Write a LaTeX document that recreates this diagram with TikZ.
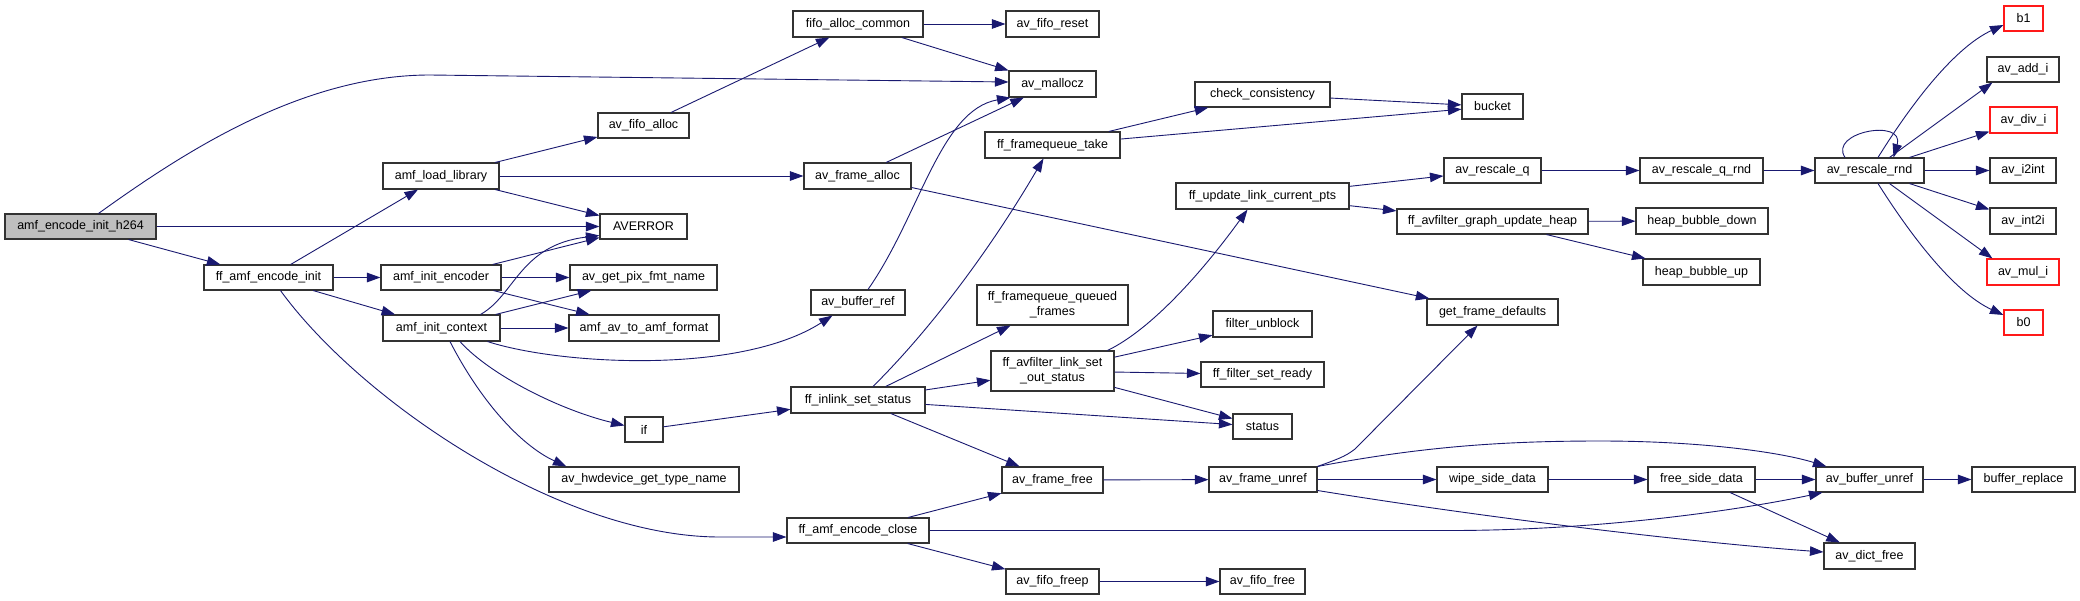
\documentclass[tikz,border=0pt]{standalone}
\usepackage{fontspec}
\setmainfont{Liberation Sans}
\usetikzlibrary{arrows.meta}
\definecolor{edgeblue}{HTML}{191970}
\definecolor{rootgray}{HTML}{BFBFBF}
\begin{document}
\begin{tikzpicture}[x=1pt,y=-1pt,
  fn/.style={draw=black!80, line width=1.1pt, fill=white, inner sep=0pt,
    font=\fontsize{12.5}{15}\selectfont, align=center},
  sz/.style 2 args={minimum width=#1pt, minimum height=#2pt},
  rootfn/.style={fn, fill=rootgray},
  redfn/.style={fn, draw=red!90},
  call/.style={draw=edgeblue, line width=0.9pt, -{Triangle[length=13.5pt,width=9.5pt]}}]
\fill[white] (0,0) rectangle (2080,600);
\useasboundingbox (0,0) rectangle (2080,600);

% nodes
\node[rootfn, sz={151}{25}] (h264) at (80.5,226.5) {amf\_encode\_init\_h264};
\node[fn, sz={129}{25}] (ffinit) at (268.5,277.5) {ff\_amf\_encode\_init};
\node[fn, sz={116}{26}] (loadlib) at (441,176) {amf\_load\_library};
\node[fn, sz={120}{25}] (initenc) at (441,277.5) {amf\_init\_encoder};
\node[fn, sz={117}{26}] (initctx) at (441.5,328) {amf\_init\_context};
\node[fn, sz={91}{25}] (fifoalloc) at (643.5,125.5) {av\_fifo\_alloc};
\node[fn, sz={87}{25}] (averror) at (643.5,226.5) {AVERROR};
\node[fn, sz={147}{25}] (pixfmt) at (643.5,277.5) {av\_get\_pix\_fmt\_name};
\node[fn, sz={150}{26}] (avtoamf) at (644,328) {amf\_av\_to\_amf\_format};
\node[fn, sz={38}{25}] (ifn) at (644,429.5) {if};
\node[fn, sz={190}{25}] (hwdev) at (644,479.5) {av\_hwdevice\_get\_type\_name};
\node[fn, sz={130}{26}] (fifocommon) at (858,24) {fifo\_alloc\_common};
\node[fn, sz={107}{26}] (framealloc) at (857.5,176) {av\_frame\_alloc};
\node[fn, sz={94}{25}] (bufref) at (858,302.5) {av\_buffer\_ref};
\node[fn, sz={134}{26}] (inlink) at (858,400) {ff\_inlink\_set\_status};
\node[fn, sz={142}{25}] (close) at (858,530.5) {ff\_amf\_encode\_close};
\node[fn, sz={93}{26}] (fiforeset) at (1052.5,24) {av\_fifo\_reset};
\node[fn, sz={87}{26}] (mallocz) at (1052.5,84) {av\_mallocz};
\node[fn, sz={135}{26}] (fqtake) at (1052.5,145) {ff\_framequeue\_take};
\node[fn, sz={151}{40}] (fqqueued) at (1052.5,305) {ff\_framequeue\_queued\\\_frames};
\node[fn, sz={123}{40}] (linkset) at (1052.5,371) {ff\_avfilter\_link\_set\\\_out\_status};
\node[fn, sz={101}{26}] (framefree) at (1052.5,480) {av\_frame\_free};
\node[fn, sz={93}{25}] (fifofreep) at (1052.5,581.5) {av\_fifo\_freep};
\node[fn, sz={135}{25}] (check) at (1262.5,94.5) {check\_consistency};
\node[fn, sz={173}{26}] (updpts) at (1262.5,196) {ff\_update\_link\_current\_pts};
\node[fn, sz={99}{26}] (unblock) at (1262.5,324) {filter\_unblock};
\node[fn, sz={123}{25}] (setready) at (1262.5,374.5) {ff\_filter\_set\_ready};
\node[fn, sz={59}{25}] (status) at (1262.5,426.5) {status};
\node[fn, sz={108}{25}] (unref) at (1263,479.5) {av\_frame\_unref};
\node[fn, sz={85}{25}] (fifofree) at (1262.5,581.5) {av\_fifo\_free};
\node[fn, sz={61}{25}] (bucket) at (1492.5,106.5) {bucket};
\node[fn, sz={97}{25}] (rescaleq) at (1492.5,170.5) {av\_rescale\_q};
\node[fn, sz={191}{25}] (updheap) at (1492.5,221.5) {ff\_avfilter\_graph\_update\_heap};
\node[fn, sz={131}{26}] (getdef) at (1492.5,312) {get\_frame\_defaults};
\node[fn, sz={111}{25}] (wipe) at (1492.5,479.5) {wipe\_side\_data};
\node[fn, sz={123}{25}] (qrnd) at (1701.5,170.5) {av\_rescale\_q\_rnd};
\node[fn, sz={132}{26}] (bdown) at (1702,221) {heap\_bubble\_down};
\node[fn, sz={117}{26}] (bup) at (1701.5,272) {heap\_bubble\_up};
\node[fn, sz={107}{25}] (freeside) at (1701.5,479.5) {free\_side\_data};
\node[fn, sz={109}{25}] (rnd) at (1869.5,170.5) {av\_rescale\_rnd};
\node[fn, sz={107}{25}] (bufunref) at (1869.5,479.5) {av\_buffer\_unref};
\node[fn, sz={91}{26}] (dictfree) at (1869.5,556) {av\_dict\_free};
\node[redfn, sz={39}{25}] (b1) at (2023.5,18.5) {b1};
\node[fn, sz={72}{25}] (addi) at (2023,69.5) {av\_add\_i};
\node[redfn, sz={67}{26}] (divi) at (2023.5,120) {av\_div\_i};
\node[fn, sz={66}{25}] (i2int) at (2023,170.5) {av\_i2int};
\node[fn, sz={66}{26}] (int2i) at (2023,221) {av\_int2i};
\node[redfn, sz={72}{26}] (muli) at (2023,272) {av\_mul\_i};
\node[redfn, sz={39}{25}] (b0) at (2023.5,322.5) {b0};
\node[fn, sz={103}{25}] (bufreplace) at (2023.5,479.5) {buffer\_replace};

% edges
\draw[call] ([xshift=18pt]h264.north) .. controls (180,155) and (300,75) .. (430,75) -- ([yshift=2pt]mallocz.west);
\draw[call] (h264) -- (averror);
\draw[call] (h264) -- (ffinit);
\draw[call] (ffinit) -- (loadlib);
\draw[call] (ffinit) -- (initenc);
\draw[call] (ffinit) -- (initctx);
\draw[call] ([xshift=12pt]ffinit.south) .. controls (360,400) and (560,537) .. (720,537) -- ([yshift=-6.5pt]close.west);
\draw[call] (loadlib) -- (fifoalloc);
\draw[call] (loadlib) -- (framealloc);
\draw[call] (loadlib) -- (averror);
\draw[call] (fifoalloc) -- (fifocommon);
\draw[call] (fifocommon) -- (fiforeset);
\draw[call] (fifocommon) -- (mallocz);
\draw[call] (framealloc) -- (mallocz);
\draw[call] (framealloc) -- (getdef);
\draw[call] ([xshift=10pt]bufref.north) .. controls (920,215) and (940,110) .. ([xshift=2pt]mallocz.south west);
\draw[call] (initenc) -- (averror);
\draw[call] (initenc) -- (pixfmt);
\draw[call] (initenc) -- (avtoamf);
\draw[call] ([xshift=-20pt]initctx.north east) .. controls (515,295) and (520,245) .. ([yshift=-9pt]averror.west);
\draw[call] (initctx) -- (pixfmt);
\draw[call] (initctx) -- (avtoamf);
\draw[call] ([xshift=-13pt]initctx.south east) .. controls (560,365) and (740,375) .. ([xshift=22pt]bufref.south west);
\draw[call] ([xshift=18.5pt]initctx.south) .. controls (490,375) and (560,410) .. ([yshift=4pt]ifn.west);
\draw[call] ([xshift=8.5pt]initctx.south) .. controls (480,400) and (520,445) .. ([xshift=18pt]hwdev.north west);
\draw[call] (ifn) -- (inlink);
\draw[call] ([xshift=15pt]inlink.north) .. controls (930,330) and (990,250) .. ([xshift=-9pt]fqtake.south);
\draw[call] (inlink) -- (fqqueued);
\draw[call] (inlink) -- (linkset);
\draw[call] (inlink) -- (status);
\draw[call] (inlink) -- (framefree);
\draw[call] (fqtake) -- (check);
\draw[call] (fqtake) -- (bucket);
\draw[call] (check) -- (bucket);
\draw[call] ([xshift=-7pt]linkset.north east) .. controls (1150,330) and (1200,275) .. ([xshift=-15pt]updpts.south);
\draw[call] (linkset) -- (unblock);
\draw[call] (linkset) -- (setready);
\draw[call] (linkset) -- (status);
\draw[call] (updpts) -- (rescaleq);
\draw[call] (updpts) -- (updheap);
\draw[call] (rescaleq) -- (qrnd);
\draw[call] (qrnd) -- (rnd);
\draw[call] ([xshift=-24.5pt]rnd.north) .. controls (1828,132) and (1905,118) .. ([xshift=24pt]rnd.north);
\draw[call] ([xshift=8.5pt]rnd.north) .. controls (1920,90) and (1960,45) .. ([yshift=-6.5pt]b1.west);
\draw[call] ([xshift=20pt]rnd.north) -- ([xshift=6pt]addi.south west);
\draw[call] ([xshift=40pt]rnd.north) -- ([yshift=2pt]divi.south west);
\draw[call] (rnd) -- (i2int);
\draw[call] ([xshift=40pt]rnd.south) -- ([yshift=-2pt]int2i.north west);
\draw[call] ([xshift=20pt]rnd.south) -- ([xshift=6pt]muli.north west);
\draw[call] ([xshift=8.5pt]rnd.south) .. controls (1920,250) and (1960,295) .. ([yshift=7.5pt]b0.west);
\draw[call] (updheap) -- (bdown);
\draw[call] (updheap) -- (bup);
\draw[call] (close) -- (framefree);
\draw[call] (close.east) -- (1450,530.5) .. controls (1600,530.5) and (1740,510) .. ([xshift=7pt]bufunref.south west);
\draw[call] (close) -- (fifofreep);
\draw[call] (framefree) -- (unref);
\draw[call] (unref.north east) .. controls (1335,460) and (1345,457) .. (1355,449) -- ([xshift=-15pt]getdef.south);
\draw[call] (unref.north east) .. controls (1420,447) and (1500,441) .. (1600,441) .. controls (1700,441) and (1780,452) .. ([xshift=11pt]bufunref.north west);
\draw[call] (unref) -- (wipe);
\draw[call] ([yshift=-11pt]unref.east) .. controls (1500,520) and (1700,543) .. ([yshift=4pt]dictfree.west);
\draw[call] (wipe) -- (freeside);
\draw[call] (freeside) -- (bufunref);
\draw[call] (freeside) -- (dictfree);
\draw[call] (bufunref) -- (bufreplace);
\draw[call] (fifofreep) -- (fifofree);
\end{tikzpicture}
\end{document}
